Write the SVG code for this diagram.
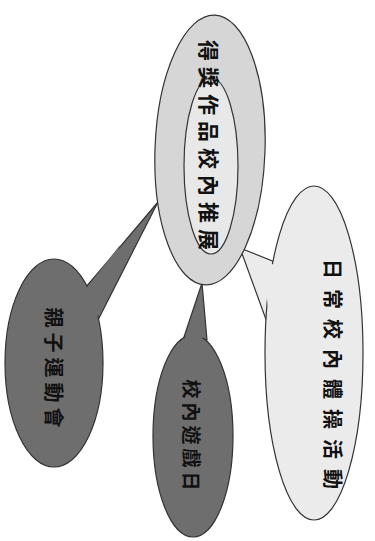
<svg xmlns="http://www.w3.org/2000/svg" width="375" height="541" viewBox="0 0 375 541">
<style>
.ln{stroke:#333;stroke-width:1.2}
.t{font-family:"Noto Sans CJK TC","Noto Sans CJK SC",sans-serif;fill:#111;text-anchor:middle;dominant-baseline:central;font-weight:bold}
.dark{fill:#6e6e6e}
.light{fill:#ebebeb}
</style>
<rect width="375" height="541" fill="#fff"/>
<g id="connectors">
<polygon id="tail-left" class="dark ln" points="86,287 158,202 98,320"/>
<polygon id="tail-mid" class="dark ln" points="183,340 202,283 207,340"/>
<polygon id="tail-right" class="light ln" points="280,264 240,248 268,325"/>
</g>
<g id="center">
<ellipse cx="210" cy="150" rx="55" ry="135" transform="rotate(2 210 150)" fill="#d6d6d6" class="ln"/>
<ellipse cx="211" cy="166" rx="27" ry="88" fill="#e8e8e8" class="ln"/>
<text class="t" x="210" y="148" font-size="21" letter-spacing="6" transform="rotate(90 210 148)">得獎作品校內推展</text>
</g>
<g id="node-left">
<ellipse cx="54" cy="363" rx="49" ry="104" class="dark ln"/>
<polygon class="dark" points="85,290 120,245 97,318"/>
<text class="t" x="54" y="370" font-size="20" letter-spacing="5" transform="rotate(90 54 370)">親子運動會</text>
</g>
<g id="node-mid">
<ellipse cx="193" cy="436" rx="40" ry="101" class="dark ln"/>
<polygon class="dark" points="185,338 198,300 205,338"/>
<text class="t" x="192" y="437" font-size="19" letter-spacing="4" transform="rotate(90 192 437)">校內遊戲日</text>
</g>
<g id="node-right">
<ellipse cx="314" cy="353" rx="49" ry="167" class="light ln"/>
<polygon class="light" points="281,266 262,262 270,322"/>
<text class="t" x="333" y="379" font-size="20" letter-spacing="10" transform="rotate(90 333 379)">日常校內體操活動</text>
</g>
</svg>
